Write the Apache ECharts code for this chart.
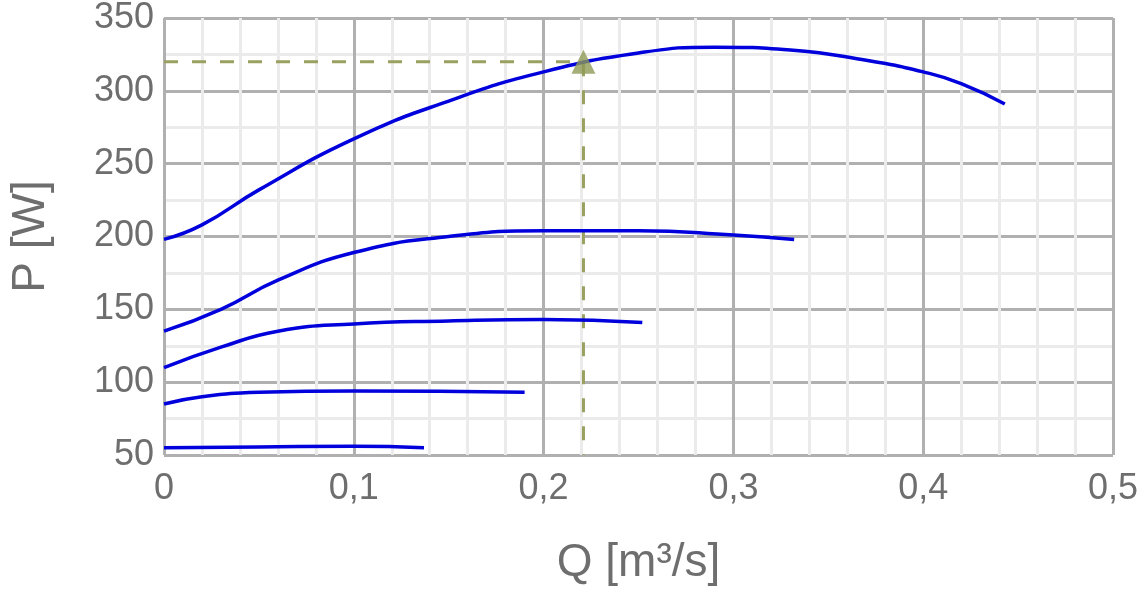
<!DOCTYPE html><html><head><meta charset="utf-8"><script src="https://cdn.jsdelivr.net/npm/echarts@6/dist/echarts.min.js"></script></head><body style="margin:0"><div id="c" style="width:1145px;height:595px"></div><script>
const curve1=[[0,198],[0.02,208],[0.05,232],[0.1,267],[0.15,293],[0.2,313],[0.25,326],[0.29,330],[0.33,328],[0.37,321],[0.4,313],[0.42,305],[0.443,291]];
const curve2=[[0,135],[0.03,150],[0.06,170],[0.1,189],[0.15,200],[0.2,204],[0.25,204],[0.3,201],[0.332,198]];
const curve3=[[0,110],[0.03,124],[0.06,135],[0.1,140],[0.15,142],[0.2,143],[0.252,141]];
const curve4=[[0,85],[0.02,90],[0.05,93],[0.1,94],[0.19,93]];
const curve5=[[0,55],[0.05,55.5],[0.1,56],[0.137,55]];
const point=[0.221,320];
const ch=echarts.init(document.getElementById('c'));
const line=d=>({type:'line',data:d,smooth:0.5,showSymbol:false,lineStyle:{color:'#0000dd',width:3.5},z:3});
ch.setOption({animation:false,
grid:{left:156,right:32,top:18,bottom:140},
xAxis:{type:'value',min:0,max:0.5,interval:0.1,name:'Q [m³/s]',nameLocation:'middle',nameGap:85,nameTextStyle:{fontSize:46,color:'#6e6e6e',fontFamily:'Arial'},
axisLabel:{fontSize:36,color:'#6e6e6e',fontFamily:'Arial',margin:16,formatter:v=>String(Math.round(v*10)/10).replace('.',',')},
axisLine:{show:false},axisTick:{show:false},splitLine:{lineStyle:{color:'#b0b0b0',width:3}},
minorTick:{show:false,splitNumber:5},minorSplitLine:{show:true,lineStyle:{color:'#ebebeb',width:3}}},
yAxis:{type:'value',min:50,max:350,interval:50,name:'P [W]',nameLocation:'middle',nameGap:110,nameTextStyle:{fontSize:46,color:'#6e6e6e',fontFamily:'Arial'},
axisLabel:{fontSize:36,color:'#6e6e6e',fontFamily:'Arial',margin:10},
axisLine:{show:false},axisTick:{show:false},splitLine:{lineStyle:{color:'#b0b0b0',width:3}},
minorTick:{show:false,splitNumber:2},minorSplitLine:{show:true,lineStyle:{color:'#ebebeb',width:3}}},
series:[line(curve1),line(curve2),line(curve3),line(curve4),line(curve5),
{type:'line',data:[[0,point[1]],point,[point[0],50]],showSymbol:false,lineStyle:{color:'#9aa060',width:3,type:[14,14]},z:2},
{type:'scatter',data:[point],symbol:'triangle',symbolSize:24,itemStyle:{color:'#8f9a55'},z:4}]
});
</script></body></html>
